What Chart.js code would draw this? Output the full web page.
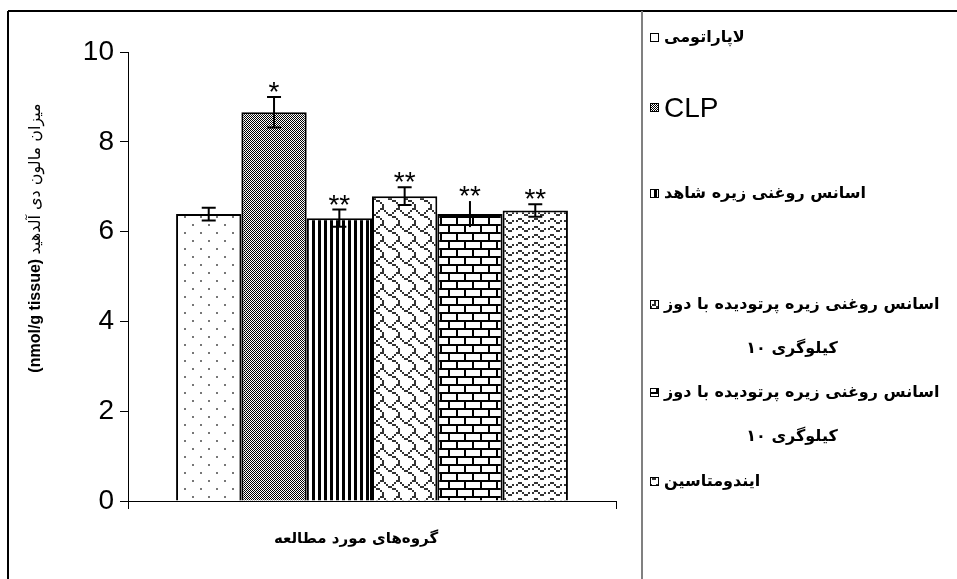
<!DOCTYPE html>
<html>
<head>
<meta charset="utf-8">
<script src="https://cdn.jsdelivr.net/npm/chart.js@4.4.1/dist/chart.umd.min.js"></script>
<style>
  html, body { margin: 0; padding: 0; background: #fff; }
  #wrap { position: relative; width: 957px; height: 579px; }
  canvas { position: absolute; left: 0; top: 0; }
</style>
</head>
<body>
<div id="wrap"><canvas id="mdaChart" width="957" height="579"></canvas></div>
<script>
// داده‌ها
const categories = ['گروه‌های مورد مطالعه'];
const groupNames = [
    ['لاپاراتومی'],
    ['CLP'],
    ['اسانس روغنی زیره شاهد'],
    ['اسانس روغنی زیره پرتودیده با دوز', '۱۰ کیلوگری'],
    ['اسانس روغنی زیره پرتودیده با دوز', '۱۰ کیلوگری'],
    ['ایندومتاسین']
];
const mdaValues = [6.39, 8.66, 6.30, 6.79, 6.39, 6.47];
const mdaErrors = [0.14, 0.34, 0.19, 0.20, 0.29, 0.14];
const starMarks = ['', '*', '**', '**', '**', '**'];
const yTicks = [0, 2, 4, 6, 8, 10];
const yTitleUnit = '(nmol/g tissue)';
const yTitleText = 'میزان مالون دی آلدهید';

const canvas = document.getElementById('mdaChart');
const ctx = canvas.getContext('2d');

// الگوهای هاشور (مثل اکسل)
function bitmapPattern(rows, fg, scale) {
    const c = document.createElement('canvas');
    c.width = 8 * scale;
    c.height = rows.length * scale;
    const g = c.getContext('2d');
    g.fillStyle = '#fff';
    g.fillRect(0, 0, c.width, c.height);
    g.fillStyle = fg;
    rows.forEach((r, y) => {
        for (let x = 0; x < 8; x++) {
            if (r & (0x80 >> x)) g.fillRect(x * scale, y * scale, scale, scale);
        }
    });
    return ctx.createPattern(c, 'repeat');
}

function stripePattern() {
    const c = document.createElement('canvas');
    c.width = 6; c.height = 6;
    const g = c.getContext('2d');
    g.fillStyle = '#fff';
    g.fillRect(0, 0, 6, 6);
    g.fillStyle = '#000';
    g.fillRect(0, 0, 3, 6);
    return ctx.createPattern(c, 'repeat');
}

const fills = [
    bitmapPattern([0x80, 0, 0, 0, 0x08, 0, 0, 0], '#777', 2),          // dots
    bitmapPattern([0xaa, 0x55], '#000', 1),                            // 50% gray
    stripePattern(),                                                   // vertical
    bitmapPattern([0x03, 0x84, 0x48, 0x30, 0x0c, 0x02, 0x01, 0x01], '#333', 2), // shingle
    bitmapPattern([0xff, 0x80, 0x80, 0x80, 0xff, 0x08, 0x08, 0x08], '#000', 2), // brick
    bitmapPattern([0x00, 0x18, 0xa4, 0x03], '#333', 2)                 // wave
];

const decor = {
    id: 'decor',
    afterDraw(chart) {
        const c = chart.ctx;
        const yScale = chart.scales.y;
        c.save();

        // قاب
        c.strokeStyle = '#000';
        c.lineWidth = 2;
        c.beginPath();
        c.moveTo(8, 11); c.lineTo(957, 11);
        c.moveTo(8, 11); c.lineTo(8, 579);
        c.stroke();
        c.strokeStyle = '#808080';
        c.beginPath();
        c.moveTo(642, 11); c.lineTo(642, 579);
        c.stroke();

        // خطای معیار و ستاره‌ها
        c.strokeStyle = '#000';
        c.fillStyle = '#000';
        chart.data.datasets.forEach((ds, i) => {
            const bar = chart.getDatasetMeta(i).data[0];
            const x = bar.x;
            const top = yScale.getPixelForValue(mdaValues[i] + mdaErrors[i]);
            const bot = yScale.getPixelForValue(mdaValues[i] - mdaErrors[i]);
            const cap = ds.errCap;
            c.lineWidth = 2;
            c.beginPath();
            c.moveTo(x, top); c.lineTo(x, bot);
            if (cap) {
                c.moveTo(x - cap / 2, top); c.lineTo(x + cap / 2, top);
                c.moveTo(x - cap / 2, bot); c.lineTo(x + cap / 2, bot);
            }
            c.stroke();
            if (starMarks[i]) {
                c.font = '28px "Liberation Sans", Arial';
                c.textAlign = 'center';
                c.textBaseline = 'alphabetic';
                c.fillText(starMarks[i], x, top + 4);
            }
        });

        // عنوان محور عمودی: واحد (پررنگ) و متن فارسی
        c.save();
        c.translate(36, 238);
        c.rotate(-Math.PI / 2);
        c.textBaseline = 'middle';
        c.textAlign = 'left';
        const unitFont = 'bold 16px "Liberation Sans", Arial';
        const faFont = '16px "DejaVu Sans"';
        c.font = unitFont;
        const wUnit = c.measureText(yTitleUnit + ' ').width;
        c.font = faFont;
        const wFa = c.measureText(yTitleText).width;
        const start = -(wUnit + wFa) / 2;
        c.font = unitFont;
        c.fillText(yTitleUnit, start, 0);
        c.font = faFont;
        c.fillText(yTitleText, start + wUnit, 0);
        c.restore();

        c.font = 'bold 15px "DejaVu Sans"';
        c.textAlign = 'center';
        c.textBaseline = 'middle';
        c.fillText(categories[0], 356, 539);

        // راهنما
        const rowY = [38, 108, 194, 305, 393, 482];
        groupNames.forEach((lines, i) => {
            const y = rowY[i];
            c.fillStyle = fills[i];
            c.fillRect(650, y - 5, 9, 9);
            c.strokeStyle = '#000';
            c.lineWidth = 1;
            c.strokeRect(650.5, y - 4.5, 8, 8);
            c.fillStyle = '#000';
            c.textBaseline = 'middle';
            const latin = /[A-Za-z]/.test(lines[0]);
            c.font = latin ? '28px "Liberation Sans", Arial' : 'bold 16px "DejaVu Sans"';
            c.textAlign = 'left';
            c.fillText(lines[0], 664, y + (latin ? 1 : 0));
            if (lines[1]) {
                c.textAlign = 'center';
                c.fillText(lines[1], 792, y + 44);
            }
        });
        c.restore();
    }
};

new Chart(canvas, {
    type: 'bar',
    data: {
        labels: categories,
        datasets: groupNames.map((n, i) => ({
            label: n.join(' '),
            data: [mdaValues[i]],
            backgroundColor: fills[i],
            borderColor: '#000',
            borderWidth: 2,
            barPercentage: 1,
            categoryPercentage: 0.803,
            errCap: i === 4 ? 0 : 14
        }))
    },
    options: {
        responsive: false,
        animation: false,
        events: [],
        layout: { padding: { top: 52, right: 341, left: 0, bottom: 0 } },
        plugins: { legend: { display: false }, tooltip: { enabled: false } },
        scales: {
            x: {
                grid: { drawOnChartArea: false, tickLength: 8, color: '#000', lineWidth: 1 },
                border: { color: '#000', width: 1 },
                ticks: { display: false },
                afterFit: s => { s.height = 78; }
            },
            y: {
                min: 0,
                max: 10,
                afterBuildTicks: s => { s.ticks = yTicks.map(v => ({ value: v })); },
                grid: { drawOnChartArea: false, tickLength: 8, color: '#000', lineWidth: 1 },
                border: { color: '#000', width: 1 },
                ticks: { padding: 6, color: '#000', font: { family: '"Liberation Sans", Arial', size: 28 } },
                afterFit: s => { s.width = 128; }
            }
        }
    },
    plugins: [decor]
});
</script>
</body>
</html>
